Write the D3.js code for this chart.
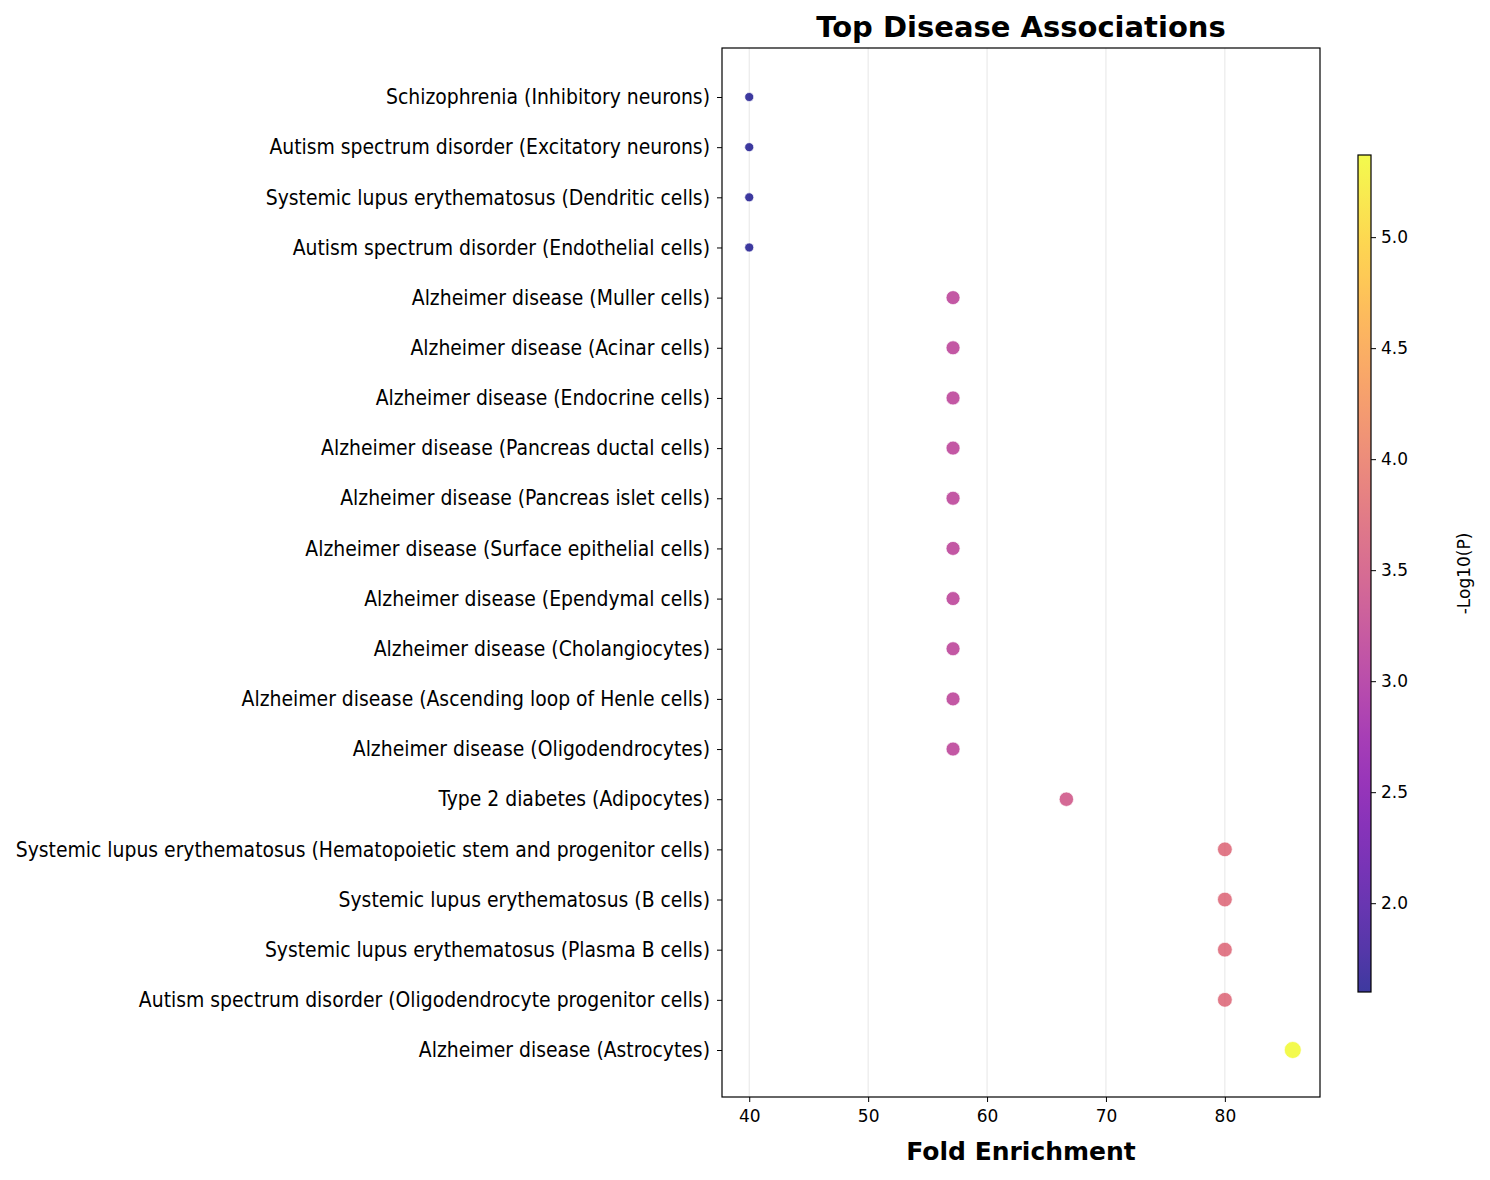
<!DOCTYPE html>
<html><head><meta charset="utf-8">
<script src="https://cdn.jsdelivr.net/npm/d3@7"></script>
<style>body{margin:0;background:#fff;font-family:"DejaVu Sans",sans-serif}</style>
</head><body><svg id="c" width="1490" height="1180"></svg>
<script>
const terms = [
  "Schizophrenia (Inhibitory neurons)",
  "Autism spectrum disorder (Excitatory neurons)",
  "Systemic lupus erythematosus (Dendritic cells)",
  "Autism spectrum disorder (Endothelial cells)",
  "Alzheimer disease (Muller cells)",
  "Alzheimer disease (Acinar cells)",
  "Alzheimer disease (Endocrine cells)",
  "Alzheimer disease (Pancreas ductal cells)",
  "Alzheimer disease (Pancreas islet cells)",
  "Alzheimer disease (Surface epithelial cells)",
  "Alzheimer disease (Ependymal cells)",
  "Alzheimer disease (Cholangiocytes)",
  "Alzheimer disease (Ascending loop of Henle cells)",
  "Alzheimer disease (Oligodendrocytes)",
  "Type 2 diabetes (Adipocytes)",
  "Systemic lupus erythematosus (Hematopoietic stem and progenitor cells)",
  "Systemic lupus erythematosus (B cells)",
  "Systemic lupus erythematosus (Plasma B cells)",
  "Autism spectrum disorder (Oligodendrocyte progenitor cells)",
  "Alzheimer disease (Astrocytes)"
];
const foldEnrichment = [40,40,40,40,57.14,57.14,57.14,57.14,57.14,57.14,57.14,57.14,57.14,57.14,66.67,80,80,80,80,85.71];
const negLogP = [1.6,1.6,1.6,1.6,3.15,3.15,3.15,3.15,3.15,3.15,3.15,3.15,3.15,3.15,3.45,3.72,3.72,3.72,3.72,5.37];
const xTicks = [40,50,60,70,80];
const cTicks = [2.0,2.5,3.0,3.5,4.0,4.5,5.0];

const svg = d3.select("#c");
const L = 722, R = 1320, T = 48, B = 1097;
const x = d3.scaleLinear().domain([37.71, 88.0]).range([L, R]);
const y = d3.scalePoint().domain(terms).range([97, 1050]);
const cmin = 1.6, cmax = 5.37;
const color = v => d3.interpolatePlasma((v - cmin) / (cmax - cmin));
const r = d3.scaleLinear().domain([cmin, 3.15, cmax]).range([4.5, 7, 8.5]);

svg.append("g").selectAll("line").data(xTicks).join("line")
  .attr("x1", d => x(d)).attr("x2", d => x(d)).attr("y1", T).attr("y2", B)
  .attr("stroke", "#e6e6e6").attr("stroke-width", 1);

svg.append("g").selectAll("circle").data(terms).join("circle")
  .attr("cx", (d, i) => x(foldEnrichment[i])).attr("cy", d => y(d))
  .attr("r", (d, i) => r(negLogP[i]))
  .attr("fill", (d, i) => color(negLogP[i])).attr("fill-opacity", 0.8)
  .attr("stroke", "#fff").attr("stroke-opacity", 0.7).attr("stroke-width", 1);

svg.append("rect").attr("x", L).attr("y", T).attr("width", R - L).attr("height", B - T)
  .attr("fill", "none").attr("stroke", "#000").attr("stroke-width", 1.2);

const xa = svg.append("g").attr("transform", `translate(0,${B})`)
  .call(d3.axisBottom(x).tickValues(xTicks).tickSize(5).tickPadding(8));
xa.select(".domain").remove();
xa.selectAll("text").attr("font-size", 17).attr("font-family", "DejaVu Sans").attr("fill", "#000");

const ya = svg.append("g").attr("transform", `translate(${L},0)`)
  .call(d3.axisLeft(y).tickSize(5).tickPadding(7));
ya.select(".domain").remove();
ya.selectAll("text").attr("font-size", 20.9).attr("font-family", "DejaVu Sans Condensed")
  .attr("font-stretch", "condensed").attr("fill", "#000");

svg.append("text").attr("x", (L + R) / 2).attr("y", 1160).attr("text-anchor", "middle")
  .attr("font-size", 25).attr("font-weight", "bold").text("Fold Enrichment");
svg.append("text").attr("x", (L + R) / 2).attr("y", 37).attr("text-anchor", "middle")
  .attr("font-size", 29).attr("font-weight", "bold").text("Top Disease Associations");

// colorbar
const cbX = 1358, cbW = 13, cbT = 155, cbB = 992;
const grad = svg.append("defs").append("linearGradient").attr("id", "g")
  .attr("x1", 0).attr("y1", 1).attr("x2", 0).attr("y2", 0);
d3.range(0, 1.001, 0.05).forEach(t => grad.append("stop")
  .attr("offset", t).attr("stop-color", d3.interpolatePlasma(t)).attr("stop-opacity", 0.8));
svg.append("rect").attr("x", cbX).attr("y", cbT).attr("width", cbW).attr("height", cbB - cbT)
  .attr("fill", "url(#g)").attr("stroke", "#000").attr("stroke-width", 1.2);
const cy = d3.scaleLinear().domain([cmin, cmax]).range([cbB, cbT]);
const ca = svg.append("g").attr("transform", `translate(${cbX + cbW},0)`)
  .call(d3.axisRight(cy).tickValues(cTicks).tickFormat(d3.format(".1f")).tickSize(5).tickPadding(5));
ca.select(".domain").remove();
ca.selectAll("text").attr("font-size", 17).attr("font-family", "DejaVu Sans").attr("fill", "#000");
svg.append("text").attr("transform", `translate(1470,${(cbT + cbB) / 2}) rotate(-90)`)
  .attr("text-anchor", "middle").attr("font-size", 17).text("-Log10(P)");
</script></body></html>
